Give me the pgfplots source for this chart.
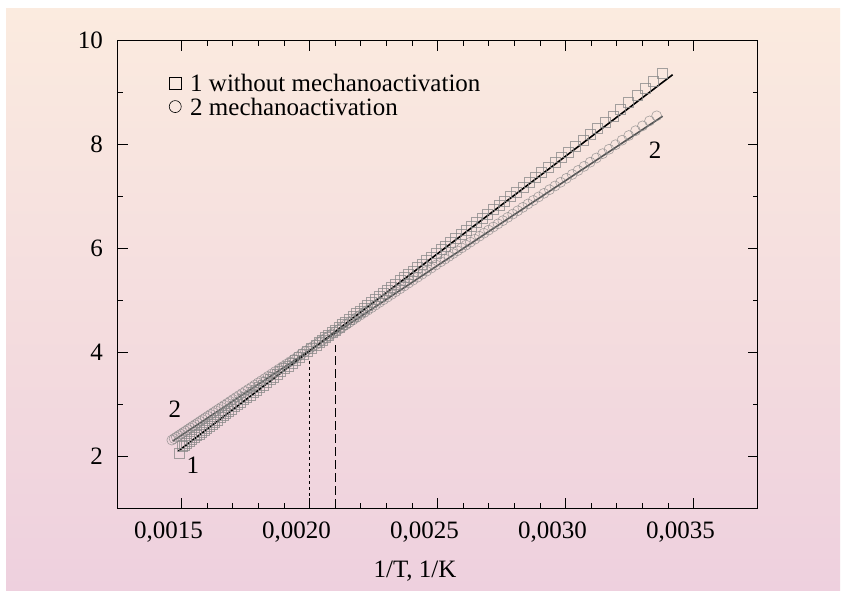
\documentclass[border=0pt]{standalone}
\usepackage{pgfplots}
\pgfplotsset{compat=1.18}
\usepackage{pgfplotstable}
\usepackage{fontspec}
\setmainfont{Liberation Serif}
\definecolor{bgtop}{RGB}{251,235,223}
\definecolor{bgbot}{RGB}{238,208,222}
\definecolor{mk}{RGB}{135,135,135}
\definecolor{fit2}{RGB}{85,85,85}
\pgfplotstableread{
x y
0.0033784 9.366
0.0033445 9.219
0.0033113 9.077
0.0032787 8.939
0.0032468 8.806
0.0032154 8.675
0.0031847 8.549
0.0031546 8.426
0.0031250 8.306
0.0030960 8.189
0.0030675 8.076
0.0030395 7.966
0.0030120 7.859
0.0029851 7.755
0.0029586 7.653
0.0029326 7.554
0.0029070 7.457
0.0028818 7.362
0.0028571 7.270
0.0028329 7.179
0.0028090 7.089
0.0027855 7.001
0.0027624 6.914
0.0027397 6.829
0.0027174 6.745
0.0026954 6.663
0.0026738 6.581
0.0026525 6.501
0.0026316 6.423
0.0026110 6.346
0.0025907 6.269
0.0025707 6.194
0.0025510 6.120
0.0025316 6.048
0.0025126 5.976
0.0024938 5.906
0.0024752 5.836
0.0024570 5.768
0.0024390 5.700
0.0024213 5.634
0.0024038 5.568
0.0023866 5.503
0.0023697 5.440
0.0023529 5.377
0.0023364 5.315
0.0023202 5.254
0.0023041 5.194
0.0022883 5.134
0.0022727 5.076
0.0022573 5.018
0.0022422 4.961
0.0022272 4.905
0.0022124 4.849
0.0021978 4.795
0.0021834 4.741
0.0021692 4.687
0.0021552 4.635
0.0021413 4.582
0.0021277 4.531
0.0021142 4.481
0.0021008 4.430
0.0020877 4.381
0.0020747 4.332
0.0020619 4.284
0.0020492 4.237
0.0020367 4.190
0.0020243 4.143
0.0020080 4.082
0.0019920 4.022
0.0019763 3.963
0.0019608 3.905
0.0019455 3.847
0.0019305 3.791
0.0019157 3.736
0.0019011 3.681
0.0018868 3.627
0.0018727 3.574
0.0018587 3.522
0.0018450 3.470
0.0018315 3.420
0.0018182 3.370
0.0018051 3.320
0.0017921 3.272
0.0017794 3.224
0.0017668 3.177
0.0017544 3.130
0.0017422 3.084
0.0017301 3.039
0.0017182 2.994
0.0017065 2.950
0.0016949 2.907
0.0016835 2.864
0.0016722 2.821
0.0016611 2.780
0.0016502 2.739
0.0016393 2.698
0.0016287 2.658
0.0016181 2.618
0.0016077 2.579
0.0015974 2.541
0.0015873 2.503
0.0015773 2.465
0.0015674 2.428
0.0015576 2.391
0.0015480 2.355
0.0015385 2.320
0.0015291 2.284
0.0015198 2.249
0.0015106 2.215
0.0015015 2.181
0.0014900 2.050
}\seriesA
\pgfplotstableread{
x y
0.0033557 8.553
0.0033278 8.455
0.0033003 8.359
0.0032733 8.266
0.0032468 8.174
0.0032206 8.084
0.0031949 7.996
0.0031696 7.909
0.0031447 7.825
0.0031201 7.741
0.0030960 7.660
0.0030722 7.580
0.0030488 7.501
0.0030257 7.424
0.0030030 7.349
0.0029806 7.274
0.0029586 7.202
0.0029369 7.130
0.0029155 7.060
0.0028944 6.991
0.0028736 6.923
0.0028531 6.856
0.0028329 6.790
0.0028129 6.724
0.0027933 6.660
0.0027739 6.597
0.0027548 6.534
0.0027360 6.473
0.0027174 6.412
0.0026991 6.352
0.0026810 6.293
0.0026631 6.235
0.0026455 6.177
0.0026281 6.120
0.0026110 6.064
0.0025940 6.009
0.0025773 5.954
0.0025608 5.900
0.0025445 5.847
0.0025284 5.794
0.0025126 5.743
0.0024938 5.681
0.0024752 5.620
0.0024570 5.561
0.0024390 5.502
0.0024213 5.444
0.0024038 5.387
0.0023866 5.331
0.0023697 5.276
0.0023529 5.221
0.0023364 5.167
0.0023202 5.114
0.0023041 5.061
0.0022883 5.010
0.0022727 4.959
0.0022573 4.908
0.0022422 4.859
0.0022272 4.810
0.0022124 4.761
0.0021978 4.714
0.0021834 4.667
0.0021692 4.620
0.0021552 4.574
0.0021413 4.529
0.0021277 4.485
0.0021142 4.440
0.0021008 4.397
0.0020877 4.354
0.0020747 4.311
0.0020619 4.269
0.0020492 4.228
0.0020367 4.187
0.0020243 4.146
0.0020121 4.107
0.0020000 4.067
0.0019841 4.015
0.0019685 3.964
0.0019531 3.914
0.0019380 3.864
0.0019231 3.816
0.0019084 3.768
0.0018939 3.720
0.0018797 3.674
0.0018657 3.628
0.0018519 3.583
0.0018382 3.538
0.0018248 3.494
0.0018116 3.451
0.0017986 3.409
0.0017857 3.367
0.0017731 3.325
0.0017606 3.284
0.0017483 3.244
0.0017361 3.204
0.0017241 3.165
0.0017123 3.127
0.0017007 3.089
0.0016892 3.051
0.0016779 3.014
0.0016667 2.977
0.0016556 2.941
0.0016447 2.906
0.0016340 2.871
0.0016234 2.836
0.0016129 2.802
0.0016026 2.768
0.0015924 2.735
0.0015823 2.702
0.0015723 2.669
0.0015625 2.637
0.0015528 2.605
0.0015432 2.574
0.0015337 2.543
0.0015244 2.512
0.0015152 2.482
0.0015060 2.452
0.0014970 2.423
0.0014881 2.394
0.0014793 2.365
0.0014706 2.336
0.0014620 2.308
}\seriesB
\begin{document}
\begin{tikzpicture}[x=1pt,y=1pt]
\path[use as bounding box] (0,0) rectangle (846,593);
\fill[white] (0,0) rectangle (846,593);
\shade[top color=bgtop, bottom color=bgbot] (6,2) rectangle (840,584);
\begin{axis}[
  at={(117.6pt,85pt)}, anchor=south west,
  scale only axis, width=640pt, height=467.3pt,
  xmin=0.00125, xmax=0.00375, ymin=1, ymax=10,
  xtick={0.0015,0.0020,0.0025,0.0030,0.0035},
  ytick={2,4,6,8,10},
  minor x tick num=4, minor y tick num=1,
  tick align=inside,
  major tick length=10pt, minor tick length=5pt,
  axis line style={black, line width=0.9pt},
  every tick/.style={black, line width=0.9pt},
  scaled x ticks=false,
  /pgf/number format/assume math mode=true,
  x tick label style={/pgf/number format/fixed, /pgf/number format/fixed zerofill, /pgf/number format/precision=4, /pgf/number format/use comma},
  tick label style={font=\fontsize{25}{28}\selectfont},
  xticklabel style={inner sep=0pt, anchor=north, xshift=-13pt, yshift=-14pt},
  yticklabel style={inner sep=0pt, anchor=east, xshift=-14.5pt},
  xlabel={1/T, 1/K},
  xlabel style={font=\fontsize{25}{28}\selectfont, at={(axis description cs:0.4647,-0.1498)}, anchor=base, inner sep=0pt},
  clip=false,
  legend cell align=left,
  legend image code/.code={\draw[#1] plot coordinates {(0pt,0pt)}; \path[draw=none] (-6.5pt,0pt) (13pt,0pt);},
  legend style={draw=none, fill=none, at={(axis cs:0.001449,9.39)}, anchor=north west,
    inner sep=0pt, row sep=2pt, font=\fontsize{25}{28}\selectfont,
    nodes={inner sep=2pt, text depth=0pt}},
]
\addlegendimage{only marks, mark=square, mark size=6pt, black, line width=0.6pt}
\addlegendentry{1 without mechanoactivation}
\addlegendimage{only marks, mark=o, mark size=6pt, black, line width=0.6pt}
\addlegendentry{2 mechanoactivation}
\addplot[only marks, mark=o, mark size=5pt, mark options={draw=mk, draw opacity=0.75, line width=0.6pt, fill=none}, forget plot] table {\seriesB};
\addplot[only marks, mark=square, mark size=5pt, mark options={draw=mk, draw opacity=0.75, line width=0.6pt, fill=none}, forget plot] table {\seriesA};
\addplot[fit2, line width=1.6pt, forget plot] coordinates {(0.001465,2.288) (0.003379,8.545)};
\addplot[black, line width=1.6pt, forget plot] coordinates {(0.001487,2.096) (0.003418,9.345)};
\addplot[black, line width=1pt, dash pattern=on 3pt off 3pt, forget plot] coordinates {(0.0020,1) (0.0020,3.85)};
\addplot[black, line width=1pt, dash pattern=on 9pt off 4pt, forget plot] coordinates {(0.0021,1) (0.0021,4.13)};
\node[font=\fontsize{25}{28}\selectfont, inner sep=0pt] at (axis cs:0.0015445,1.827) {1};
\node[font=\fontsize{25}{28}\selectfont, inner sep=0pt] at (axis cs:0.001474,2.904) {2};
\node[font=\fontsize{25}{28}\selectfont, inner sep=0pt] at (axis cs:0.0033492,7.885) {2};
\end{axis}
\end{tikzpicture}
\end{document}
